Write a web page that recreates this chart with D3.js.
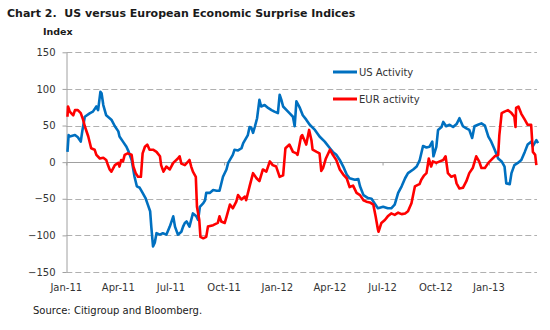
<!DOCTYPE html>
<html>
<head>
<meta charset="utf-8">
<script src="https://cdn.jsdelivr.net/npm/d3@7"></script>
<style>
  body { margin: 0; background: #fff; }
  text { font-family: "DejaVu Sans", Verdana, sans-serif; }
  .titulo { font-size: 11px; font-weight: bold; fill: #1a1a1a; }
  .unidad { font-size: 9.5px; font-weight: bold; fill: #1a1a1a; }
  .etiqueta { font-size: 10px; fill: #333; }
  .fuente { font-size: 10px; fill: #1a1a1a; }
</style>
</head>
<body>
<div id="grafica"></div>
<script>
// ticks del eje Y y etiquetas del eje X
const yTicks = [-150, -100, -50, 0, 50, 100, 150];
const xTicks = ["2011-01-01", "2011-04-01", "2011-07-01", "2011-10-01", "2012-01-01",
  "2012-04-01", "2012-07-01", "2012-10-01", "2013-01-01"];
const seriesNames = ["US Activity", "EUR activity"];

// US Citi economic surprise index
const usActivity = [
  ["2011-01-03", 14], ["2011-01-05", 37], ["2011-01-07", 35], ["2011-01-16", 37], ["2011-01-21", 34],
  ["2011-01-26", 28], ["2011-01-29", 44], ["2011-02-02", 62], ["2011-02-11", 67], ["2011-02-16", 69],
  ["2011-02-22", 76], ["2011-02-25", 71], ["2011-03-01", 96], ["2011-03-03", 94], ["2011-03-06", 78],
  ["2011-03-11", 64], ["2011-03-20", 58], ["2011-03-26", 49], ["2011-04-01", 42], ["2011-04-03", 35],
  ["2011-04-09", 28], ["2011-04-15", 21], ["2011-04-19", 14], ["2011-04-24", 3], ["2011-04-26", -6],
  ["2011-04-29", -20], ["2011-05-03", -33], ["2011-05-08", -35], ["2011-05-13", -42], ["2011-05-18", -49],
  ["2011-05-22", -58], ["2011-05-26", -67], ["2011-05-28", -88], ["2011-05-31", -115], ["2011-06-03", -110],
  ["2011-06-06", -97], ["2011-06-12", -99], ["2011-06-17", -97], ["2011-06-23", -99], ["2011-06-29", -88],
  ["2011-07-05", -74], ["2011-07-08", -88], ["2011-07-13", -99], ["2011-07-19", -95], ["2011-07-22", -88],
  ["2011-07-25", -83], ["2011-07-28", -81], ["2011-08-02", -88], ["2011-08-08", -70], ["2011-08-14", -74],
  ["2011-08-17", -79], ["2011-08-20", -61], ["2011-08-26", -56], ["2011-08-29", -52], ["2011-08-31", -42],
  ["2011-09-06", -42], ["2011-09-12", -38], ["2011-09-18", -39], ["2011-09-23", -39], ["2011-09-29", -20],
  ["2011-10-05", -10], ["2011-10-08", -1], ["2011-10-11", 3], ["2011-10-16", 10], ["2011-10-19", 17],
  ["2011-10-25", 16], ["2011-10-31", 19], ["2011-11-03", 26], ["2011-11-06", 30], ["2011-11-11", 37],
  ["2011-11-14", 48], ["2011-11-17", 47], ["2011-11-20", 40], ["2011-11-23", 48], ["2011-11-27", 60],
  ["2011-12-01", 85], ["2011-12-04", 76], ["2011-12-10", 78], ["2011-12-16", 74], ["2011-12-22", 71],
  ["2011-12-27", 69], ["2012-01-02", 67], ["2012-01-05", 92], ["2012-01-08", 85], ["2012-01-11", 76],
  ["2012-01-17", 71], ["2012-01-22", 67], ["2012-01-28", 62], ["2012-01-31", 49], ["2012-02-03", 83],
  ["2012-02-09", 74], ["2012-02-14", 64], ["2012-02-20", 58], ["2012-02-26", 51], ["2012-03-06", 44],
  ["2012-03-14", 35], ["2012-03-23", 28], ["2012-04-01", 19], ["2012-04-06", 14], ["2012-04-12", 10],
  ["2012-04-18", 3], ["2012-04-24", -6], ["2012-04-30", -17], ["2012-05-05", -22], ["2012-05-14", -24],
  ["2012-05-20", -23], ["2012-05-23", -33], ["2012-05-29", -45], ["2012-06-06", -49], ["2012-06-12", -50],
  ["2012-06-17", -56], ["2012-06-23", -63], ["2012-07-02", -61], ["2012-07-10", -63], ["2012-07-16", -63],
  ["2012-07-22", -58], ["2012-07-28", -42], ["2012-08-03", -33], ["2012-08-09", -22], ["2012-08-14", -15],
  ["2012-08-23", -10], ["2012-08-29", -6], ["2012-09-03", 2], ["2012-09-09", 22], ["2012-09-15", 20],
  ["2012-09-20", 21], ["2012-09-25", 28], ["2012-09-27", 8], ["2012-10-02", 21], ["2012-10-05", 44],
  ["2012-10-11", 48], ["2012-10-14", 55], ["2012-10-19", 49], ["2012-10-25", 51], ["2012-10-31", 48],
  ["2012-11-06", 52], ["2012-11-11", 60], ["2012-11-17", 49], ["2012-11-23", 46], ["2012-11-28", 44],
  ["2012-12-03", 33], ["2012-12-07", 49], ["2012-12-13", 51], ["2012-12-19", 53], ["2012-12-25", 50],
  ["2012-12-31", 35], ["2013-01-05", 28], ["2013-01-11", 17], ["2013-01-17", 5], ["2013-01-23", 1],
  ["2013-01-28", -6], ["2013-01-31", -29], ["2013-02-06", -30], ["2013-02-09", -15], ["2013-02-14", -4],
  ["2013-02-20", -1], ["2013-02-26", 3], ["2013-03-04", 14], ["2013-03-09", 24], ["2013-03-15", 28],
  ["2013-03-18", 22], ["2013-03-24", 30], ["2013-03-27", 26]
];

// Eurozone Citi economic surprise index
const eurActivity = [
  ["2011-01-03", 62], ["2011-01-04", 76], ["2011-01-07", 69], ["2011-01-13", 64], ["2011-01-16", 71],
  ["2011-01-21", 71], ["2011-01-26", 67], ["2011-01-30", 58], ["2011-02-02", 49], ["2011-02-08", 35],
  ["2011-02-13", 19], ["2011-02-19", 17], ["2011-02-22", 10], ["2011-02-28", 5], ["2011-03-06", 6],
  ["2011-03-11", 3], ["2011-03-14", -4], ["2011-03-17", -10], ["2011-03-20", -13], ["2011-03-26", -4],
  ["2011-04-01", -1], ["2011-04-03", -6], ["2011-04-06", 3], ["2011-04-09", 1], ["2011-04-12", 10],
  ["2011-04-17", 12], ["2011-04-24", 10], ["2011-04-27", -6], ["2011-05-01", -15], ["2011-05-05", -20],
  ["2011-05-10", -20], ["2011-05-13", 12], ["2011-05-17", 21], ["2011-05-21", 24], ["2011-05-25", 17],
  ["2011-05-31", 17], ["2011-06-06", 14], ["2011-06-12", 8], ["2011-06-14", -4], ["2011-06-18", -13],
  ["2011-06-23", -6], ["2011-06-29", -10], ["2011-07-05", -1], ["2011-07-13", 5], ["2011-07-16", 8],
  ["2011-07-19", -2], ["2011-07-25", -4], ["2011-07-31", 1], ["2011-08-02", 3], ["2011-08-05", -6],
  ["2011-08-08", -13], ["2011-08-13", -20], ["2011-08-15", -61], ["2011-08-19", -79], ["2011-08-21", -102],
  ["2011-08-26", -104], ["2011-08-31", -102], ["2011-09-03", -88], ["2011-09-12", -86], ["2011-09-20", -83],
  ["2011-09-23", -74], ["2011-09-26", -81], ["2011-10-02", -83], ["2011-10-05", -75], ["2011-10-11", -58],
  ["2011-10-16", -63], ["2011-10-22", -54], ["2011-10-25", -45], ["2011-10-31", -51], ["2011-11-06", -47],
  ["2011-11-08", -52], ["2011-11-14", -33], ["2011-11-20", -15], ["2011-11-26", -22], ["2011-12-01", -26],
  ["2011-12-07", -10], ["2011-12-13", -13], ["2011-12-19", 1], ["2011-12-24", -4], ["2011-12-30", -6],
  ["2012-01-05", -20], ["2012-01-11", -18], ["2012-01-15", 19], ["2012-01-22", 24], ["2012-01-28", 14],
  ["2012-02-03", 12], ["2012-02-05", 10], ["2012-02-11", 35], ["2012-02-13", 37], ["2012-02-20", 24],
  ["2012-02-25", 44], ["2012-02-29", 30], ["2012-03-02", 17], ["2012-03-09", 14], ["2012-03-14", 12],
  ["2012-03-17", -12], ["2012-03-20", -8], ["2012-03-25", 5], ["2012-04-01", 17], ["2012-04-06", 10],
  ["2012-04-12", 3], ["2012-04-18", -10], ["2012-04-24", -17], ["2012-04-30", -22], ["2012-05-05", -34],
  ["2012-05-11", -32], ["2012-05-17", -42], ["2012-05-23", -45], ["2012-05-29", -52], ["2012-06-03", -54],
  ["2012-06-09", -55], ["2012-06-15", -58], ["2012-06-19", -74], ["2012-06-23", -92], ["2012-06-24", -95],
  ["2012-06-29", -83], ["2012-07-05", -79], ["2012-07-10", -74], ["2012-07-16", -70], ["2012-07-22", -72],
  ["2012-07-28", -69], ["2012-08-03", -71], ["2012-08-09", -70], ["2012-08-14", -67], ["2012-08-20", -56],
  ["2012-08-26", -33], ["2012-08-31", -31], ["2012-09-03", -30], ["2012-09-06", -24], ["2012-09-11", -18],
  ["2012-09-15", -15], ["2012-09-19", 5], ["2012-09-23", -6], ["2012-09-26", 1], ["2012-10-02", -1],
  ["2012-10-08", 1], ["2012-10-14", 3], ["2012-10-18", 8], ["2012-10-22", -15], ["2012-10-28", -20],
  ["2012-11-03", -18], ["2012-11-06", -29], ["2012-11-11", -36], ["2012-11-17", -35], ["2012-11-23", -26],
  ["2012-11-28", -15], ["2012-12-04", -8], ["2012-12-10", 8], ["2012-12-15", 1], ["2012-12-19", -8],
  ["2012-12-25", -8], ["2012-12-31", -1], ["2013-01-05", 3], ["2013-01-11", 8], ["2013-01-17", 10],
  ["2013-01-19", 37], ["2013-01-23", 67], ["2013-01-28", 69], ["2013-02-03", 71], ["2013-02-09", 67],
  ["2013-02-14", 62], ["2013-02-16", 48], ["2013-02-17", 74], ["2013-02-21", 76], ["2013-02-26", 66],
  ["2013-03-04", 58], ["2013-03-09", 51], ["2013-03-15", 51], ["2013-03-18", 14], ["2013-03-22", 10],
  ["2013-03-24", -4]
];

const width = 550;
const height = 330;
const margin = { top: 52.3, right: 13, bottom: 58, left: 66.3 };
const parseDate = d3.timeParse("%Y-%m-%d");

const svg = d3.select("#grafica").append("svg")
  .attr("width", width)
  .attr("height", height);

const xScale = d3.scaleTime()
  .domain([parseDate("2011-01-01"), parseDate("2013-03-26")])
  .range([margin.left, 537.5]);

const yScale = d3.scaleLinear()
  .domain([-150, 150])
  .range([height - margin.bottom, margin.top]);

svg.append("text")
  .attr("class", "titulo")
  .attr("x", 7)
  .attr("y", 17)
  .attr("xml:space", "preserve")
  .text("Chart 2.  US versus European Economic Surprise Indices");

svg.append("text")
  .attr("class", "unidad")
  .attr("x", 43)
  .attr("y", 35)
  .text("Index");

// rejilla horizontal
const grid = svg.append("g").attr("class", "rejilla");
grid.selectAll("line")
  .data(yTicks.filter(d => d !== 0))
  .enter()
  .append("line")
  .attr("x1", margin.left)
  .attr("x2", 537)
  .attr("y1", d => Math.round(yScale(d)) + 0.5)
  .attr("y2", d => Math.round(yScale(d)) + 0.5)
  .attr("stroke", "#b0b0b0")
  .attr("stroke-width", 1)
  .attr("stroke-dasharray", "6,3");

// eje Y
const axisY = svg.append("g")
  .attr("class", "axisY")
  .attr("transform", `translate(${Math.round(margin.left) + 0.5},0)`)
  .call(d3.axisLeft(yScale).tickValues(yTicks).tickSize(4).tickSizeOuter(0).tickPadding(7));
axisY.select(".domain").attr("stroke", "#a0a0a0");
axisY.selectAll(".tick line").attr("stroke", "#a0a0a0");
axisY.selectAll(".tick text").attr("class", "etiqueta").attr("font-family", null).attr("font-size", null);

// linea del cero con marcas trimestrales
const axisX = svg.append("g")
  .attr("class", "axisX")
  .attr("transform", `translate(0,${Math.round(yScale(0)) + 0.5})`)
  .call(d3.axisBottom(xScale).tickValues(xTicks.map(parseDate)).tickSize(3).tickSizeOuter(0).tickFormat(""));
axisX.select(".domain").attr("stroke", "#a0a0a0").attr("d", `M${margin.left},0H537`);
axisX.selectAll(".tick line").attr("stroke", "#a0a0a0");

// etiquetas de fecha abajo
svg.append("g")
  .selectAll("text")
  .data(xTicks.map(parseDate))
  .enter()
  .append("text")
  .attr("class", "etiqueta")
  .attr("x", d => xScale(d))
  .attr("y", height - margin.bottom + 19)
  .attr("text-anchor", "middle")
  .text(d3.timeFormat("%b-%y"));

const line = d3.line()
  .x(d => xScale(parseDate(d[0])))
  .y(d => yScale(d[1]));

svg.append("path")
  .datum(usActivity)
  .attr("fill", "none")
  .attr("stroke", "#0070c0")
  .attr("stroke-width", 2.6)
  .attr("stroke-linejoin", "round")
  .attr("d", line);

svg.append("path")
  .datum(eurActivity)
  .attr("fill", "none")
  .attr("stroke", "#ff0000")
  .attr("stroke-width", 2.6)
  .attr("stroke-linejoin", "round")
  .attr("d", line);

// leyenda
const legend = svg.append("g").attr("class", "leyenda");
const legendItem = legend.selectAll("g")
  .data(seriesNames)
  .enter()
  .append("g")
  .attr("transform", (d, i) => `translate(333,${72 + i * 27})`);
legendItem.append("line")
  .attr("x1", 0)
  .attr("x2", 24)
  .attr("stroke", (d, i) => (i === 0 ? "#0070c0" : "#ff0000"))
  .attr("stroke-width", 3);
legendItem.append("text")
  .attr("class", "etiqueta")
  .attr("x", 26)
  .attr("y", 3.5)
  .attr("fill", "#1a1a1a")
  .text(d => d);

svg.append("text")
  .attr("class", "fuente")
  .attr("x", 33)
  .attr("y", 314)
  .text("Source: Citigroup and Bloomberg.");
</script>
</body>
</html>
